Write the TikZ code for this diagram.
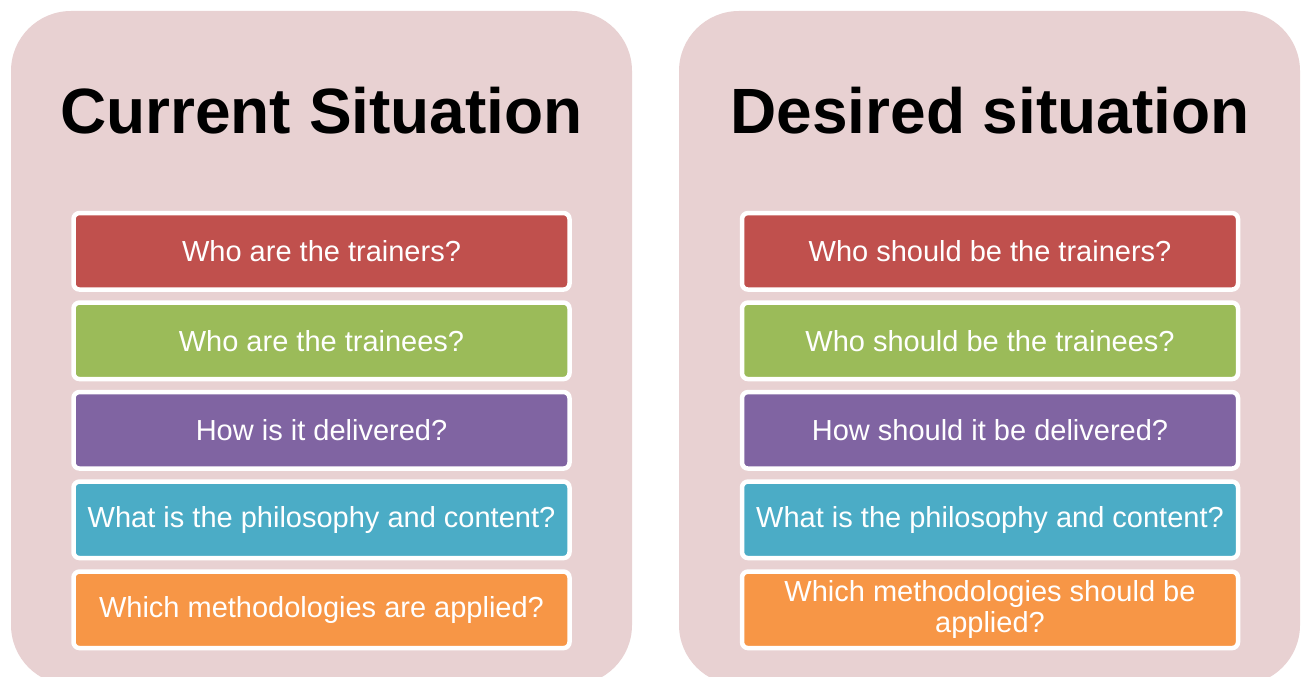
\documentclass[tikz,border=0pt]{standalone}
\usepackage{fontspec}
\setmainfont{Liberation Sans}
\definecolor{panelpink}{HTML}{E8D1D2}
\definecolor{cred}{HTML}{C0504D}
\definecolor{cgreen}{HTML}{9BBB59}
\definecolor{cpurple}{HTML}{8064A2}
\definecolor{cblue}{HTML}{4BACC6}
\definecolor{corange}{HTML}{F79646}
\tikzset{
  panel/.style={fill=panelpink, draw=none, rounded corners=60pt},
  qbox/.style={draw=white, line width=4.5pt, rounded corners=6pt, minimum width=496pt, minimum height=76.5pt, inner sep=0pt, text=white, align=center,
    font=\fontsize{29pt}{31pt}\selectfont},
  title/.style={font=\fontsize{64pt}{70pt}\selectfont\bfseries, text=black, anchor=base, inner sep=0pt}
}
\begin{document}
\begin{tikzpicture}[x=1pt,y=-1pt]
\useasboundingbox (0,0) rectangle (1306,677);
\clip (0,0) rectangle (1306,677);
\fill[white] (0,0) rectangle (1306,677);
\path[panel] (11,11) rectangle (632,685);
\path[panel] (679,11) rectangle (1300,685);
\node[title] (t1) at (321.5,133) {Current Situation};
\node[title] (t2) at (990,133) {Desired situation};
\node[qbox, fill=cred] (l1) at (321.5,251.3) {Who are the trainers?};
\node[qbox, fill=cgreen] (l2) at (321.5,340.8) {Who are the trainees?};
\node[qbox, fill=cpurple] (l3) at (321.5,430.3) {How is it delivered?};
\node[qbox, fill=cblue] (l4) at (321.5,519.8) {What is the philosophy and content?};
\node[qbox, fill=corange] (l5) at (321.5,609.8) {Which methodologies are applied?};
\node[qbox, fill=cred] (r1) at (990,251.3) {Who should be the trainers?};
\node[qbox, fill=cgreen] (r2) at (990,340.8) {Who should be the trainees?};
\node[qbox, fill=cpurple] (r3) at (990,430.3) {How should it be delivered?};
\node[qbox, fill=cblue] (r4) at (990,519.8) {What is the philosophy and content?};
\node[qbox, fill=corange] (r5) at (990,609.8) {Which methodologies should be\\applied?};
\end{tikzpicture}
\end{document}
